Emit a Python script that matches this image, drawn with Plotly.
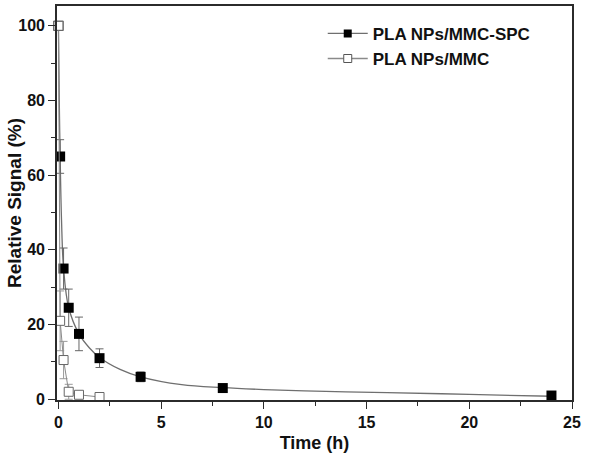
import plotly.graph_objects as go

# ---- data ----
spc_time = [0, 0.083, 0.25, 0.5, 1, 2, 4, 8, 24]
spc_signal = [100, 65, 35, 24.5, 17.5, 11, 6, 3, 1]
spc_err = [0, 4.5, 5.5, 5, 4.5, 2.5, 1.3, 0.6, 0.4]

mmc_time = [0, 0.083, 0.25, 0.5, 1, 2]
mmc_signal = [100, 21, 10.5, 2, 1.2, 0.6]
mmc_err = [0, 8, 5, 2, 0.6, 0.4]

# fitted decay curve drawn through the SPC points
fit_time = [0, 0.04, 0.083, 0.15, 0.25, 0.5, 1, 1.5, 2, 3, 4, 6, 8, 10, 13, 16, 20, 24]
fit_signal = [100, 80, 65, 48, 35, 24.5, 17.5, 13.8, 11.2, 8.0, 6.0, 3.9, 3.1, 2.6, 2.1, 1.8, 1.3, 0.8]

LABEL_SPC = "PLA NPs/MMC-SPC"
LABEL_MMC = "PLA NPs/MMC"

AXIS_COLOR = "#2b2b2b"
FIT_COLOR = "#6f6f6f"
OPEN_COLOR = "#8a8a8a"
FONT = "Arial, Liberation Sans, sans-serif"

fig = go.Figure()

# fitted curve for SPC
fig.add_trace(go.Scatter(
    x=fit_time, y=fit_signal, mode="lines", line_shape="spline",
    line=dict(color=FIT_COLOR, width=1.3), showlegend=False, hoverinfo="skip",
))

# SPC filled markers
fig.add_trace(go.Scatter(
    x=spc_time, y=spc_signal, mode="markers",
    marker=dict(symbol="square", size=10, color="#000000"),
    error_y=dict(type="data", array=spc_err, color="#666666", thickness=1, width=4),
    showlegend=False, cliponaxis=False,
))

# MMC connecting line + open (white filled) markers, on top
fig.add_trace(go.Scatter(
    x=mmc_time, y=mmc_signal, mode="lines+markers",
    line=dict(color=OPEN_COLOR, width=1),
    marker=dict(symbol="square", size=9, color="#ffffff", line=dict(color="#666666", width=1)),
    error_y=dict(type="data", array=mmc_err, color="#9a9a9a", thickness=1, width=4),
    showlegend=False, cliponaxis=False,
))

# legend entries
fig.add_trace(go.Scatter(
    x=[None], y=[None], mode="lines+markers", name=LABEL_SPC,
    line=dict(color=FIT_COLOR, width=1.3),
    marker=dict(symbol="square", size=8, color="#000000"),
))
fig.add_trace(go.Scatter(
    x=[None], y=[None], mode="lines+markers", name=LABEL_MMC,
    line=dict(color=OPEN_COLOR, width=1.3),
    marker=dict(symbol="square", size=8, color="#ffffff", line=dict(color="#555555", width=1)),
))

axis_common = dict(
    showline=True, linecolor=AXIS_COLOR, linewidth=1.6, mirror=True,
    ticks="outside", ticklen=7, tickwidth=1.4, tickcolor=AXIS_COLOR,
    showgrid=False, zeroline=False,
    tickfont=dict(family=FONT, size=16, color="#111111", weight="bold"),
)

fig.update_layout(
    width=600, height=454,
    paper_bgcolor="white", plot_bgcolor="white",
    margin=dict(l=57, r=28, t=4, b=52),
    font=dict(family=FONT, color="#111111"),
    xaxis=dict(
        **axis_common,
        range=[-0.07, 25], tickvals=[0, 5, 10, 15, 20, 25],
        minor=dict(tickvals=[2.5, 7.5, 12.5, 17.5, 22.5], ticks="outside",
                   ticklen=4, tickwidth=1.2, tickcolor=AXIS_COLOR),
        title=dict(text="Time (h)", font=dict(family=FONT, size=18, weight="bold"), standoff=6),
    ),
    yaxis=dict(
        **axis_common,
        range=[-0.2, 105.3], tickvals=[0, 20, 40, 60, 80, 100],
        minor=dict(tickvals=[10, 30, 50, 70, 90], ticks="outside",
                   ticklen=4, tickwidth=1.2, tickcolor=AXIS_COLOR),
    ),
    legend=dict(
        x=0.516, y=0.975, xanchor="left", yanchor="top",
        bgcolor="rgba(0,0,0,0)", borderwidth=0,
        font=dict(family=FONT, size=17, color="#111111", weight="bold"),
        itemwidth=40, tracegroupgap=0,
    ),
)

# y-axis title placed as an annotation so it sits where the reference has it
fig.add_annotation(
    text="Relative Signal (%)", textangle=-90,
    xref="paper", yref="paper", x=0, y=0.5, xanchor="center", yanchor="middle",
    xshift=-43, showarrow=False,
    font=dict(family=FONT, size=19, color="#111111", weight="bold"),
)

fig.write_html("out.html", config={"displayModeBar": False},
               post_script="document.body.style.margin='0';")
